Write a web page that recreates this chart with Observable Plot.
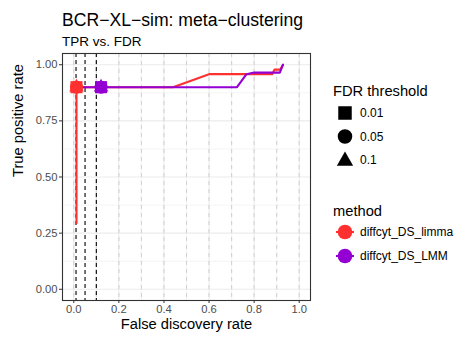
<!DOCTYPE html>
<html>
<head>
<meta charset="utf-8">
<script src="https://cdn.jsdelivr.net/npm/d3@7"></script>
<script src="https://cdn.jsdelivr.net/npm/@observablehq/plot@0.6"></script>
<style>
  body { margin: 0; background: #fff; }
  svg { display: block; }
</style>
</head>
<body>
<div id="chart"></div>
<script>
// Methods and their colours
const methods = ["diffcyt_DS_limma", "diffcyt_DS_LMM"];
const methodColors = ["#FF3030", "#9400D3"];

// FDR thresholds and their point shapes
const thresholds = ["0.01", "0.05", "0.1"];
const thresholdValues = [0.01, 0.05, 0.1];
const thresholdSymbols = ["square", "circle", "triangle"];

// TPR vs. FDR curve, diffcyt_DS_limma
const limmaFDR = [0.012, 0.012, 0.44, 0.60, 0.88, 0.89, 0.915, 0.928];
const limmaTPR = [0.294, 0.90, 0.90, 0.958, 0.958, 0.978, 0.978, 1.0];

// TPR vs. FDR curve, diffcyt_DS_LMM
const lmmFDR = [0.012, 0.724, 0.766, 0.80, 0.914, 0.928];
const lmmTPR = [0.90, 0.90, 0.958, 0.965, 0.965, 1.0];

// Observed (FDR, TPR) at each threshold
const limmaPointFDR = [0.012, 0.012, 0.012];
const limmaPointTPR = [0.90, 0.90, 0.90];
const lmmPointFDR = [0.121, 0.121, 0.121];
const lmmPointTPR = [0.90, 0.90, 0.90];

// Axis ticks and background reference lines
const xTicks = [0, 0.2, 0.4, 0.6, 0.8, 1.0];
const yTicks = [0, 0.25, 0.5, 0.75, 1.0];
const yMinor = [0.125, 0.375, 0.625, 0.875];
const xMinor = [0.1, 0.3, 0.5, 0.7, 0.9];
const fdrGuides = [0, 0.1, 0.2, 0.3, 0.4, 0.5, 0.6, 0.7, 0.8, 0.9, 1.0];

// Marker radius per shape, so the three shapes read at a similar size
const symbolRadius = {square: 6.8, circle: 6.5, triangle: 5.4};

const curves = [
  ...limmaFDR.map((f, i) => ({method: methods[0], fdr: f, tpr: limmaTPR[i]})),
  ...lmmFDR.map((f, i) => ({method: methods[1], fdr: f, tpr: lmmTPR[i]}))
];
const points = [
  ...limmaPointFDR.map((f, i) => ({method: methods[0], threshold: thresholds[i], fdr: f, tpr: limmaPointTPR[i]})),
  ...lmmPointFDR.map((f, i) => ({method: methods[1], threshold: thresholds[i], fdr: f, tpr: lmmPointTPR[i]}))
];

const font = "'Liberation Sans', Arial, sans-serif";

const chart = Plot.plot({
  width: 454,
  height: 338,
  marginLeft: 62,
  marginRight: 144,
  marginTop: 53,
  marginBottom: 38,
  style: {fontFamily: font, background: "#fff"},
  x: {domain: [-0.05, 1.05]},
  y: {domain: [-0.05, 1.05]},
  r: {type: "identity"},
  color: {domain: methods, range: methodColors},
  symbol: {domain: thresholds, range: thresholdSymbols},
  marks: [
    Plot.ruleY(yMinor, {stroke: "#ebebeb", strokeWidth: 0.55}),
    Plot.ruleY(yTicks, {stroke: "#ebebeb", strokeWidth: 1.1}),
    Plot.ruleX(xMinor, {stroke: "#ebebeb", strokeWidth: 0.55}),
    Plot.ruleX(xTicks, {stroke: "#ebebeb", strokeWidth: 1.1}),
    Plot.ruleX(fdrGuides, {stroke: "#d3d3d3", strokeWidth: 1.1, strokeDasharray: "4,4"}),
    Plot.ruleX(thresholdValues, {stroke: "#000", strokeWidth: 1.1, strokeDasharray: "4,3"}),
    Plot.line(curves, {x: "fdr", y: "tpr", z: "method", stroke: "method", strokeWidth: 2.1}),
    Plot.dot(points, {
      x: "fdr", y: "tpr", symbol: "threshold", fill: "method", stroke: "none",
      r: d => symbolRadius[thresholdSymbols[thresholds.indexOf(d.threshold)]]
    }),
    Plot.frame({stroke: "#333", strokeWidth: 1.1}),
    Plot.axisX(xTicks, {tickSize: 3, tickPadding: 2, tickFormat: d => d.toFixed(1), fontSize: 11.2, color: "#4d4d4d", stroke: "#333", label: null}),
    Plot.axisY(yTicks, {tickSize: 3, tickPadding: 2, tickFormat: d => d.toFixed(2), fontSize: 11.2, color: "#4d4d4d", stroke: "#333", label: null}),
    Plot.text(["False discovery rate"], {frameAnchor: "bottom", dy: 28, fontSize: 14.7, fill: "#000"}),
    Plot.text(["True positive rate"], {frameAnchor: "left", dx: -44, rotate: -90, fontSize: 14.7, fill: "#000"})
  ]
});

document.getElementById("chart").appendChild(chart);

// Title, subtitle and legends
const svg = d3.select(chart);
const g = svg.append("g").attr("font-family", font).attr("text-anchor", "start");

g.append("text").attr("x", 62).attr("y", 26).attr("font-size", 17.6).attr("fill", "#000")
  .text("BCR−XL−sim: meta−clustering");
g.append("text").attr("x", 62).attr("y", 46).attr("font-size", 13.5).attr("fill", "#000")
  .text("TPR vs. FDR");

g.append("text").attr("x", 333).attr("y", 96).attr("font-size", 14.7).attr("fill", "#000")
  .text("FDR threshold");
const symbolTypes = {square: d3.symbolSquare, circle: d3.symbolCircle, triangle: d3.symbolTriangle};
thresholds.forEach((t, i) => {
  const y = 113 + 23.5 * i;
  const shape = thresholdSymbols[i];
  const rr = symbolRadius[shape] * 1.12;
  g.append("path")
    .attr("transform", `translate(345,${y + (shape === "triangle" ? 1 : 0)})`)
    .attr("d", d3.symbol(symbolTypes[shape], Math.PI * rr * rr)())
    .attr("fill", "#000");
  g.append("text").attr("x", 360).attr("y", y + 4).attr("font-size", 12).attr("fill", "#000").text(t);
});

g.append("text").attr("x", 333).attr("y", 216).attr("font-size", 14.7).attr("fill", "#000")
  .text("method");
methods.forEach((m, i) => {
  const y = 232 + 24 * i;
  g.append("line").attr("x1", 336).attr("x2", 354).attr("y1", y).attr("y2", y)
    .attr("stroke", methodColors[i]).attr("stroke-width", 2.1);
  g.append("circle").attr("cx", 345).attr("cy", y).attr("r", 7.3).attr("fill", methodColors[i]);
  g.append("text").attr("x", 360).attr("y", y + 4).attr("font-size", 12).attr("fill", "#000").text(m);
});
</script>
</body>
</html>
